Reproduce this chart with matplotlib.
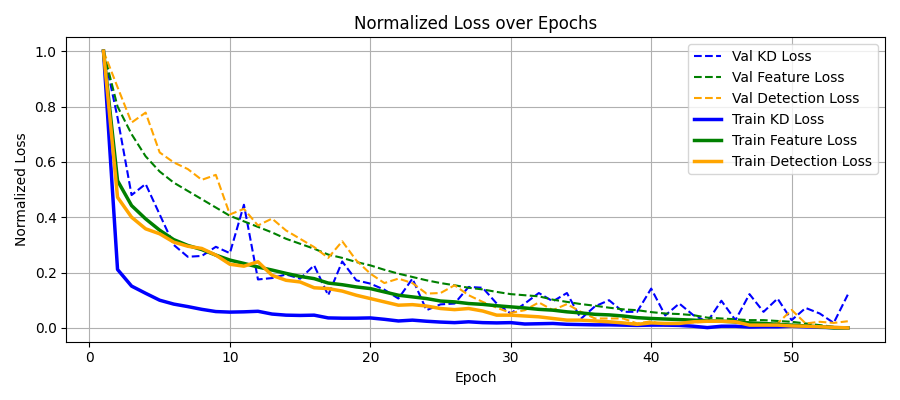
import matplotlib
matplotlib.use("Agg")
import matplotlib.pyplot as plt

epochs = list(range(1, 55))

val_kd = [1.0, 0.76, 0.48, 0.52, 0.41, 0.30, 0.257, 0.26, 0.293, 0.27,
          0.445, 0.175, 0.18, 0.193, 0.178, 0.226, 0.118, 0.24, 0.172, 0.16,
          0.138, 0.106, 0.178, 0.064, 0.085, 0.088, 0.148, 0.145, 0.088, 0.052,
          0.088, 0.126, 0.096, 0.126, 0.033, 0.078, 0.10, 0.058, 0.058, 0.142,
          0.045, 0.088, 0.046, 0.022, 0.098, 0.028, 0.122, 0.058, 0.106, 0.028,
          0.072, 0.052, 0.018, 0.12]
val_feat = [1.0, 0.80, 0.70, 0.62, 0.565, 0.525, 0.495, 0.465, 0.435, 0.405,
            0.385, 0.365, 0.345, 0.322, 0.304, 0.286, 0.265, 0.253, 0.238, 0.226,
            0.21, 0.196, 0.184, 0.172, 0.162, 0.154, 0.145, 0.139, 0.13, 0.122,
            0.118, 0.114, 0.102, 0.094, 0.086, 0.08, 0.073, 0.067, 0.064, 0.057,
            0.052, 0.05, 0.046, 0.037, 0.034, 0.031, 0.028, 0.028, 0.025, 0.022,
            0.016, 0.01, 0.004, 0.0]
val_det = [1.0, 0.87, 0.742, 0.778, 0.634, 0.598, 0.574, 0.535, 0.553, 0.41,
           0.43, 0.37, 0.395, 0.352, 0.322, 0.292, 0.253, 0.313, 0.244, 0.196,
           0.162, 0.178, 0.162, 0.124, 0.126, 0.154, 0.118, 0.094, 0.073, 0.054,
           0.064, 0.092, 0.064, 0.086, 0.058, 0.034, 0.034, 0.034, 0.016, 0.024,
           0.008, 0.015, 0.02, 0.022, 0.024, 0.02, 0.018, 0.016, 0.016, 0.065,
           0.016, 0.022, 0.018, 0.024]
train_kd = [1.0, 0.211, 0.151, 0.125, 0.10, 0.086, 0.077, 0.067, 0.059, 0.057,
            0.058, 0.06, 0.05, 0.046, 0.045, 0.046, 0.036, 0.035, 0.035, 0.036,
            0.031, 0.025, 0.028, 0.024, 0.021, 0.019, 0.022, 0.019, 0.018, 0.019,
            0.014, 0.015, 0.016, 0.013, 0.012, 0.011, 0.011, 0.01, 0.009, 0.01,
            0.01, 0.009, 0.006, 0.001, 0.006, 0.006, 0.003, 0.004, 0.004, 0.006,
            0.004, 0.002, 0.001, 0.0]
train_feat = [1.0, 0.532, 0.442, 0.394, 0.353, 0.319, 0.298, 0.283, 0.263, 0.245,
              0.233, 0.22, 0.209, 0.197, 0.186, 0.178, 0.162, 0.156, 0.148, 0.142,
              0.13, 0.118, 0.112, 0.106, 0.097, 0.094, 0.088, 0.085, 0.08, 0.076,
              0.072, 0.067, 0.064, 0.058, 0.054, 0.049, 0.047, 0.043, 0.037, 0.034,
              0.032, 0.03, 0.028, 0.025, 0.024, 0.022, 0.018, 0.016, 0.013, 0.01,
              0.007, 0.004, 0.0, 0.0]
train_det = [1.0, 0.472, 0.40, 0.358, 0.34, 0.31, 0.295, 0.287, 0.263, 0.23,
             0.223, 0.239, 0.19, 0.172, 0.166, 0.145, 0.142, 0.133, 0.118, 0.106,
             0.094, 0.082, 0.084, 0.079, 0.07, 0.066, 0.07, 0.061, 0.046, 0.046,
             0.043, 0.04, 0.034, 0.028, 0.028, 0.025, 0.022, 0.018, 0.013, 0.018,
             0.016, 0.016, 0.022, 0.024, 0.024, 0.022, 0.01, 0.01, 0.01, 0.007,
             0.006, 0.004, 0.002, 0.0]


def main():
    fig = plt.figure(figsize=(9, 4), dpi=100)

    # validation curves, dashed
    plt.plot(epochs, val_kd, '--', color='blue', label='Val KD Loss')
    plt.plot(epochs, val_feat, '--', color='green', label='Val Feature Loss')
    plt.plot(epochs, val_det, '--', color='orange', label='Val Detection Loss')

    # training curves, thick solid
    plt.plot(epochs, train_kd, color='blue', linewidth=2.5, label='Train KD Loss')
    plt.plot(epochs, train_feat, color='green', linewidth=2.5, label='Train Feature Loss')
    plt.plot(epochs, train_det, color='orange', linewidth=2.5, label='Train Detection Loss')

    plt.xlabel("Epoch")
    plt.ylabel("Normalized Loss")
    plt.title("Normalized Loss over Epochs")
    plt.legend(loc='upper right')
    plt.grid(True)
    plt.tight_layout()
    fig.savefig("out.png")


if __name__ == "__main__":
    main()
